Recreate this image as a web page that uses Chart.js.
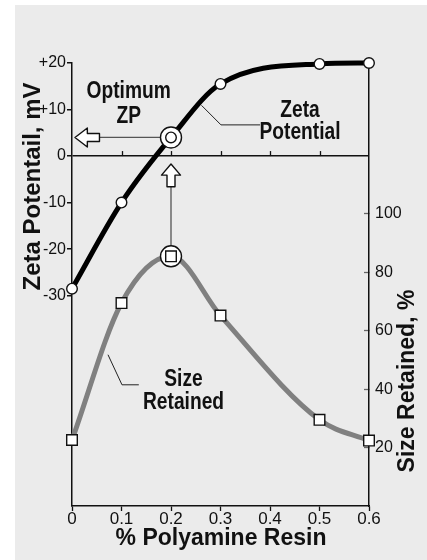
<!DOCTYPE html>
<html><head><meta charset="utf-8">
<script src="https://cdn.jsdelivr.net/npm/chart.js@4.4.1/dist/chart.umd.min.js"></script>
<style>html,body{margin:0;padding:0;background:#fff;}canvas{display:block;}</style>
</head><body>
<canvas id="c" width="427" height="560"></canvas>
<script>
// ---- data ----
const xValues = [0, 0.1, 0.2, 0.3, 0.5, 0.6];
const zetaPotential = [-28.5, -10, 4, 15.5, 19.8, 20];
const sizeRetained = [22.6, 69.5, 85.5, 65.2, 29.5, 22.4];
const optimumIndex = 2;

const xTicks = [0, 0.1, 0.2, 0.3, 0.4, 0.5, 0.6];
const xTickLabels = ['0', '0.1', '0.2', '0.3', '0.4', '0.5', '0.6'];
const zetaTicks = [20, 10, 0, -10, -20, -30];
const zetaTickLabels = ['+20', '+10', '0', '-10', '-20', '-30'];
const sizeTicks = [20, 40, 60, 80, 100];
const sizeTickLabels = ['20', '40', '60', '80', '100'];
const zeroLineTicks = [0.1, 0.2, 0.3, 0.4, 0.5];

const xRange = [0, 0.6];
const zetaRange = [-75.2, 20];
const sizeRange = [0, 151.7];

const xTitle = '% Polyamine Resin';
const zetaTitle = 'Zeta Potentail, mV';
const sizeTitle = 'Size Retained, %';

// annotation anchors in data units
const optimumLabel = { lines: ['Optimum', 'ZP'], x: 0.1145, y: [12.54, 7.16], axis: 'y' };
const zetaLabel = { lines: ['Zeta', 'Potential'], x: 0.4606, y: [8.45, 3.61], axis: 'y' };
const sizeLabel = { lines: ['Size', 'Retained'], x: 0.2253, y: [41.13, 33.25], axis: 'y2' };
const zetaLeader = { pts: [[0.2616, 10.9], [0.301, 6.7], [0.38, 6.7]], axis: 'y' };
const sizeLeader = { pts: [[0.0727, 51.8], [0.101, 41.5], [0.135, 41.5]], axis: 'y2' };
const leftArrow = { tip: 0.006, base: 0.031, tail: 0.0555 };
const upArrow = { tip: -1.7, base: -4.1, tail: -6.6 };

const FONT = '"Liberation Sans", Arial, Helvetica, sans-serif';

function pts(xs, ys) { return xs.map((x, i) => ({ x: x, y: ys[i] })); }

const decor = {
  id: 'decor',
  beforeDraw(chart) {
    const ctx = chart.ctx;
    ctx.save();
    ctx.fillStyle = '#ffffff';
    ctx.fillRect(0, 0, chart.width, chart.height);
    ctx.fillStyle = '#ebebeb';
    ctx.fillRect(15, 5, chart.width - 15, chart.height - 5);
    ctx.restore();
  },
  beforeDatasetsDraw(chart) {
    const ctx = chart.ctx, sx = chart.scales.x, sy = chart.scales.y, s2 = chart.scales.y2;
    ctx.save();
    const y0 = sy.getPixelForValue(0);
    ctx.strokeStyle = '#111'; ctx.lineWidth = 1.3;
    zeroLineTicks.forEach(v => {
      const x = Math.round(sx.getPixelForValue(v)) + 0.5;
      ctx.beginPath(); ctx.moveTo(x, y0); ctx.lineTo(x, y0 - 5); ctx.stroke();
    });
    const ox = sx.getPixelForValue(xValues[optimumIndex]);
    const oy = sy.getPixelForValue(zetaPotential[optimumIndex]);
    const oy2 = s2.getPixelForValue(sizeRetained[optimumIndex]);
    ctx.strokeStyle = '#555'; ctx.lineWidth = 1.3;
    ctx.beginPath();
    ctx.moveTo(sx.getPixelForValue(leftArrow.tail), oy); ctx.lineTo(ox, oy);
    ctx.moveTo(ox, sy.getPixelForValue(upArrow.tail)); ctx.lineTo(ox, oy2);
    ctx.stroke();
    ctx.strokeStyle = '#222'; ctx.lineWidth = 1;
    [zetaLeader, sizeLeader].forEach(l => {
      const sc = chart.scales[l.axis];
      ctx.beginPath();
      l.pts.forEach((p, i) => {
        const X = sx.getPixelForValue(p[0]), Y = sc.getPixelForValue(p[1]);
        if (i === 0) ctx.moveTo(X, Y); else ctx.lineTo(X, Y);
      });
      ctx.stroke();
    });
    ctx.restore();
  },
  afterDatasetsDraw(chart) {
    const ctx = chart.ctx, sx = chart.scales.x, sy = chart.scales.y;
    const ox = sx.getPixelForValue(xValues[optimumIndex]);
    const oy = sy.getPixelForValue(zetaPotential[optimumIndex]);
    ctx.save();
    ctx.fillStyle = '#fff'; ctx.strokeStyle = '#111'; ctx.lineWidth = 1.4; ctx.lineJoin = 'round';
    let t = sx.getPixelForValue(leftArrow.tip), b = sx.getPixelForValue(leftArrow.base), e = sx.getPixelForValue(leftArrow.tail);
    const hh = 9.5, sh = 4;
    ctx.beginPath();
    ctx.moveTo(t, oy); ctx.lineTo(b, oy - hh); ctx.lineTo(b, oy - sh); ctx.lineTo(e, oy - sh);
    ctx.lineTo(e, oy + sh); ctx.lineTo(b, oy + sh); ctx.lineTo(b, oy + hh); ctx.closePath();
    ctx.fill(); ctx.stroke();
    t = sy.getPixelForValue(upArrow.tip); b = sy.getPixelForValue(upArrow.base); e = sy.getPixelForValue(upArrow.tail);
    ctx.beginPath();
    ctx.moveTo(ox, t); ctx.lineTo(ox + hh, b); ctx.lineTo(ox + sh, b); ctx.lineTo(ox + sh, e);
    ctx.lineTo(ox - sh, e); ctx.lineTo(ox - sh, b); ctx.lineTo(ox - hh, b); ctx.closePath();
    ctx.fill(); ctx.stroke();
    ctx.restore();
  },
  afterDraw(chart) {
    const ctx = chart.ctx, sx = chart.scales.x;
    ctx.save();
    ctx.fillStyle = '#111';
    ctx.textAlign = 'center'; ctx.textBaseline = 'middle';
    ctx.font = 'bold 24px ' + FONT;
    ctx.save(); ctx.translate(33.5, 186.5); ctx.rotate(-Math.PI / 2); ctx.fillText(zetaTitle, 0, 0); ctx.restore();
    ctx.font = 'bold 23px ' + FONT;
    ctx.save(); ctx.translate(408, 381); ctx.rotate(-Math.PI / 2); ctx.fillText(sizeTitle, 0, 0); ctx.restore();
    ctx.fillText(xTitle, 221, 539);
    ctx.font = 'bold 24px ' + FONT;
    ctx.textBaseline = 'alphabetic';
    [optimumLabel, zetaLabel, sizeLabel].forEach(l => {
      const sc = chart.scales[l.axis];
      const X = sx.getPixelForValue(l.x);
      l.lines.forEach((txt, i) => {
        const Y = sc.getPixelForValue(l.y[i]);
        ctx.save(); ctx.translate(X, Y); ctx.scale(0.8, 1); ctx.fillText(txt, 0, 0); ctx.restore();
      });
    });
    ctx.restore();
  }
};

const ringStyle = { pointRadius: 10.5, pointBackgroundColor: '#fff', pointBorderColor: '#111', pointBorderWidth: 1.4, showLine: false, clip: false };

new Chart(document.getElementById('c'), {
  type: 'line',
  data: {
    datasets: [
      { label: 'Zeta Potential', data: pts(xValues, zetaPotential), yAxisID: 'y', order: 4,
        borderColor: '#000', borderWidth: 5, cubicInterpolationMode: 'monotone', clip: false,
        pointRadius: 5.3, pointBackgroundColor: '#fff', pointBorderColor: '#111', pointBorderWidth: 1.4 },
      { label: 'Size Retained', data: pts(xValues, sizeRetained), yAxisID: 'y2', order: 4,
        borderColor: '#808080', borderWidth: 5, cubicInterpolationMode: 'monotone', clip: false,
        pointStyle: 'rect', pointRadius: 7.5, pointBackgroundColor: '#fff', pointBorderColor: '#111', pointBorderWidth: 1.4 },
      Object.assign({ label: 'ring1', data: [{ x: xValues[optimumIndex], y: zetaPotential[optimumIndex] }], yAxisID: 'y', order: 2 }, ringStyle),
      Object.assign({ label: 'ring2', data: [{ x: xValues[optimumIndex], y: sizeRetained[optimumIndex] }], yAxisID: 'y2', order: 2 }, ringStyle),
      { label: 'opt1', data: [{ x: xValues[optimumIndex], y: zetaPotential[optimumIndex] }], yAxisID: 'y', order: 1, showLine: false, clip: false,
        pointRadius: 5.3, pointBackgroundColor: '#fff', pointBorderColor: '#111', pointBorderWidth: 1.4 },
      { label: 'opt2', data: [{ x: xValues[optimumIndex], y: sizeRetained[optimumIndex] }], yAxisID: 'y2', order: 1, showLine: false, clip: false,
        pointStyle: 'rect', pointRadius: 7.5, pointBackgroundColor: '#fff', pointBorderColor: '#111', pointBorderWidth: 1.4 }
    ]
  },
  options: {
    responsive: false, animation: false, devicePixelRatio: 1, events: [],
    layout: { padding: { top: 63, left: 0, right: 0, bottom: 0 } },
    plugins: { legend: { display: false }, tooltip: { enabled: false } },
    scales: {
      x: {
        type: 'linear', position: 'bottom', min: xRange[0], max: xRange[1],
        afterBuildTicks: s => { s.ticks = xTicks.map(v => ({ value: v })); },
        afterFit: s => { s.height = 54; },
        grid: { drawOnChartArea: false, tickLength: 5, tickColor: '#111', tickWidth: 1.3 },
        border: { display: true, color: '#111', width: 1.5 },
        ticks: { color: '#111', padding: -2, font: { family: FONT, size: 17 }, maxRotation: 0, autoSkip: false,
          callback: (v, i) => xTickLabels[i] }
      },
      y: {
        type: 'linear', position: 'left', min: zetaRange[0], max: zetaRange[1],
        afterBuildTicks: s => { s.ticks = zetaTicks.map(v => ({ value: v })); },
        afterFit: s => { s.width = 72; },
        grid: { drawOnChartArea: true, tickLength: 5, tickColor: '#111', lineWidth: 1.5,
          color: c => (c.tick && c.tick.value === 0) ? '#111' : 'rgba(0,0,0,0)' },
        border: { display: true, color: '#111', width: 1.5 },
        ticks: { color: '#111', padding: 1, font: { family: FONT, size: 16 }, autoSkip: false,
          callback: (v, i) => zetaTickLabels[i] }
      },
      y2: {
        type: 'linear', position: 'right', min: sizeRange[0], max: sizeRange[1],
        afterBuildTicks: s => { s.ticks = sizeTicks.map(v => ({ value: v })); },
        afterFit: s => { s.width = 58; },
        grid: { drawOnChartArea: false, tickLength: -5, tickColor: '#666', tickWidth: 1.3 },
        border: { display: true, color: '#111', width: 1.5 },
        ticks: { color: '#111', padding: 11, font: { family: FONT, size: 16 }, autoSkip: false,
          callback: (v, i) => sizeTickLabels[i] }
      }
    }
  },
  plugins: [decor]
});
</script>
</body></html>
